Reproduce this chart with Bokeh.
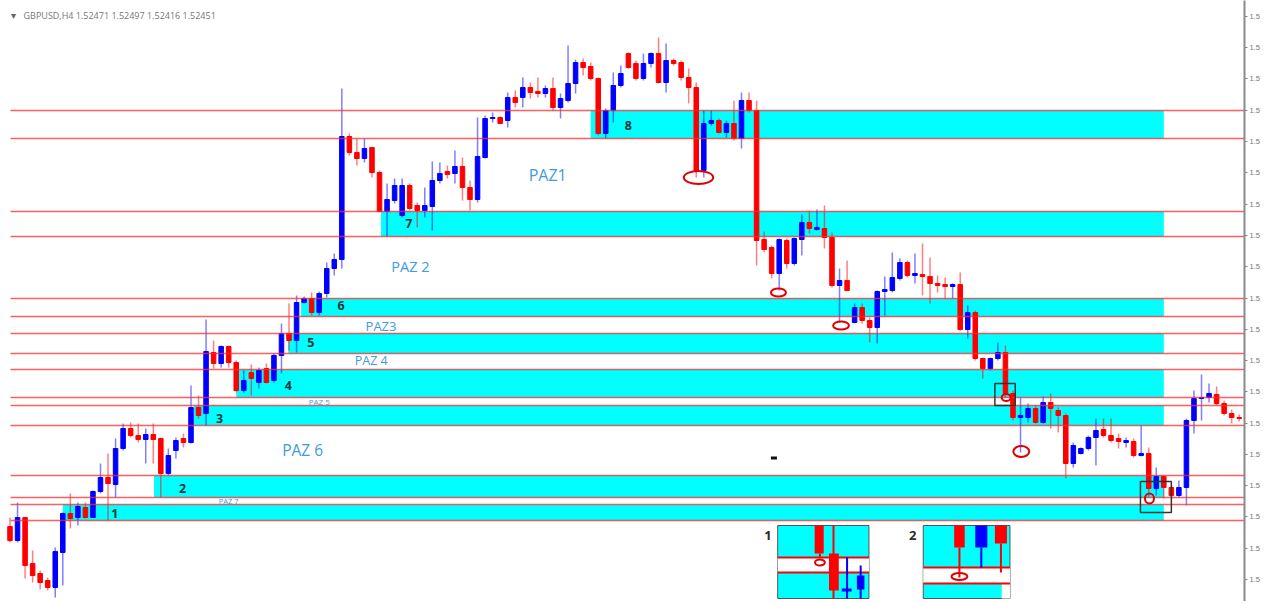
from bokeh.plotting import figure
from bokeh.models import Label, FixedTicker, CustomJSTickFormatter, Range1d
from bokeh.core.properties import value
from bokeh.embed import file_html
from bokeh.resources import INLINE

# ---------------- data ----------------
bars = list(range(-1, 163))

open_ = [1.5074,
 1.5060, 1.5083, 1.5037, 1.5027, 1.5020, 1.5013, 1.5048, 1.5087, 1.5083, 1.5093,
 1.5083, 1.5109, 1.5123, 1.5116, 1.5152, 1.5172, 1.5165, 1.5161, 1.5166, 1.5162,
 1.5127, 1.5150, 1.5162, 1.5158, 1.5193, 1.5187, 1.5248, 1.5237, 1.5254, 1.5238,
 1.5210, 1.5228, 1.5218, 1.5232, 1.5220, 1.5245, 1.5267, 1.5260, 1.5298, 1.5302,
 1.5288, 1.5307, 1.5332, 1.5341, 1.5464, 1.5448, 1.5442, 1.5453, 1.5428, 1.5389,
 1.5400, 1.5385, 1.5415, 1.5395, 1.5390, 1.5394, 1.5420, 1.5429, 1.5427, 1.5434,
 1.5413, 1.5401, 1.5443, 1.5482, 1.5483, 1.5480, 1.5503, 1.5503, 1.5513, 1.5509,
 1.5507, 1.5512, 1.5493, 1.5500, 1.5517, 1.5538, 1.5534, 1.5522, 1.5467, 1.5490,
 1.5515, 1.5547, 1.5537, 1.5522, 1.5537, 1.5547, 1.5518, 1.5540, 1.5538, 1.5523,
 1.5513, 1.5430, 1.5477, 1.5480, 1.5468, 1.5477, 1.5462, 1.5500, 1.5490, 1.5361,
 1.5353, 1.5327, 1.5360, 1.5337, 1.5361, 1.5378, 1.5371, 1.5372, 1.5363, 1.5315,
 1.5320, 1.5278, 1.5293, 1.5280, 1.5273, 1.5309, 1.5310, 1.5322, 1.5338, 1.5325,
 1.5326, 1.5324, 1.5317, 1.5316, 1.5314, 1.5316, 1.5271, 1.5288, 1.5242, 1.5232,
 1.5242, 1.5248, 1.5207, 1.5183, 1.5183, 1.5192, 1.5178, 1.5198, 1.5190, 1.5185,
 1.5137, 1.5147, 1.5152, 1.5163, 1.5171, 1.5165, 1.5162, 1.5158, 1.5159, 1.5145,
 1.5147, 1.5112, 1.5124, 1.5113, 1.5105, 1.5113, 1.5180, 1.5202, 1.5203, 1.5206,
 1.5197, 1.5187, 1.5183]

high = [1.5083,
 1.5098, 1.5083, 1.5050, 1.5030, 1.5023, 1.5053, 1.5088, 1.5107, 1.5098, 1.5098,
 1.5110, 1.5137, 1.5147, 1.5162, 1.5177, 1.5178, 1.5177, 1.5172, 1.5177, 1.5163,
 1.5152, 1.5163, 1.5167, 1.5215, 1.5205, 1.5281, 1.5260, 1.5255, 1.5255, 1.5240,
 1.5230, 1.5236, 1.5233, 1.5237, 1.5247, 1.5277, 1.5297, 1.5305, 1.5304, 1.5308,
 1.5309, 1.5338, 1.5347, 1.5512, 1.5467, 1.5462, 1.5462, 1.5453, 1.5430, 1.5417,
 1.5422, 1.5422, 1.5417, 1.5398, 1.5413, 1.5439, 1.5438, 1.5435, 1.5450, 1.5443,
 1.5420, 1.5483, 1.5485, 1.5488, 1.5484, 1.5508, 1.5510, 1.5523, 1.5518, 1.5523,
 1.5515, 1.5523, 1.5507, 1.5555, 1.5541, 1.5542, 1.5538, 1.5523, 1.5492, 1.5528,
 1.5535, 1.5548, 1.5540, 1.5547, 1.5548, 1.5563, 1.5557, 1.5542, 1.5540, 1.5532,
 1.5518, 1.5490, 1.5490, 1.5482, 1.5480, 1.5500, 1.5508, 1.5508, 1.5500, 1.5369,
 1.5355, 1.5362, 1.5362, 1.5363, 1.5386, 1.5390, 1.5391, 1.5395, 1.5368, 1.5332,
 1.5340, 1.5297, 1.5297, 1.5283, 1.5310, 1.5324, 1.5348, 1.5342, 1.5340, 1.5347,
 1.5357, 1.5343, 1.5325, 1.5323, 1.5317, 1.5328, 1.5295, 1.5290, 1.5243, 1.5243,
 1.5258, 1.5255, 1.5210, 1.5203, 1.5197, 1.5195, 1.5204, 1.5207, 1.5193, 1.5187,
 1.5158, 1.5153, 1.5165, 1.5182, 1.5182, 1.5182, 1.5167, 1.5163, 1.5162, 1.5175,
 1.5153, 1.5133, 1.5125, 1.5115, 1.5120, 1.5182, 1.5210, 1.5226, 1.5217, 1.5214,
 1.5200, 1.5191, 1.5186]

low = [1.5058,
 1.5058, 1.5022, 1.5018, 1.5011, 1.5010, 1.5003, 1.5015, 1.5072, 1.5075, 1.5082,
 1.5083, 1.5107, 1.5080, 1.5103, 1.5150, 1.5163, 1.5158, 1.5137, 1.5137, 1.5103,
 1.5125, 1.5142, 1.5153, 1.5157, 1.5182, 1.5175, 1.5232, 1.5233, 1.5233, 1.5208,
 1.5208, 1.5205, 1.5212, 1.5217, 1.5218, 1.5227, 1.5250, 1.5248, 1.5297, 1.5285,
 1.5285, 1.5303, 1.5325, 1.5332, 1.5445, 1.5435, 1.5438, 1.5423, 1.5388, 1.5364,
 1.5397, 1.5383, 1.5390, 1.5373, 1.5383, 1.5370, 1.5417, 1.5422, 1.5417, 1.5400,
 1.5390, 1.5398, 1.5442, 1.5478, 1.5477, 1.5473, 1.5493, 1.5493, 1.5502, 1.5503,
 1.5503, 1.5490, 1.5482, 1.5498, 1.5507, 1.5525, 1.5520, 1.5465, 1.5462, 1.5478,
 1.5513, 1.5532, 1.5520, 1.5520, 1.5533, 1.5517, 1.5508, 1.5535, 1.5520, 1.5497,
 1.5423, 1.5423, 1.5475, 1.5467, 1.5463, 1.5460, 1.5452, 1.5488, 1.5335, 1.5348,
 1.5322, 1.5310, 1.5332, 1.5335, 1.5345, 1.5367, 1.5370, 1.5352, 1.5313, 1.5278,
 1.5310, 1.5277, 1.5277, 1.5258, 1.5257, 1.5285, 1.5308, 1.5320, 1.5323, 1.5317,
 1.5305, 1.5297, 1.5308, 1.5302, 1.5302, 1.5270, 1.5262, 1.5240, 1.5222, 1.5230,
 1.5240, 1.5203, 1.5180, 1.5148, 1.5178, 1.5177, 1.5177, 1.5172, 1.5168, 1.5122,
 1.5133, 1.5146, 1.5150, 1.5135, 1.5163, 1.5158, 1.5152, 1.5153, 1.5143, 1.5144,
 1.5103, 1.5105, 1.5102, 1.5104, 1.5103, 1.5095, 1.5167, 1.5180, 1.5198, 1.5195,
 1.5185, 1.5177, 1.5179]

close = [1.5060,
 1.5083, 1.5035, 1.5025, 1.5018, 1.5013, 1.5049, 1.5087, 1.5082, 1.5094, 1.5083,
 1.5109, 1.5123, 1.5117, 1.5152, 1.5172, 1.5165, 1.5161, 1.5166, 1.5161, 1.5127,
 1.5145, 1.5160, 1.5158, 1.5193, 1.5185, 1.5249, 1.5237, 1.5254, 1.5238, 1.5210,
 1.5220, 1.5222, 1.5230, 1.5218, 1.5245, 1.5267, 1.5260, 1.5298, 1.5302, 1.5288,
 1.5307, 1.5332, 1.5341, 1.5464, 1.5448, 1.5442, 1.5452, 1.5428, 1.5389, 1.5401,
 1.5415, 1.5415, 1.5392, 1.5390, 1.5395, 1.5420, 1.5427, 1.5426, 1.5434, 1.5413,
 1.5401, 1.5444, 1.5482, 1.5483, 1.5477, 1.5503, 1.5498, 1.5513, 1.5508, 1.5507,
 1.5512, 1.5493, 1.5502, 1.5517, 1.5538, 1.5533, 1.5522, 1.5467, 1.5490, 1.5515,
 1.5527, 1.5533, 1.5522, 1.5537, 1.5547, 1.5518, 1.5540, 1.5537, 1.5523, 1.5513,
 1.5430, 1.5477, 1.5480, 1.5468, 1.5477, 1.5462, 1.5500, 1.5490, 1.5360, 1.5351,
 1.5327, 1.5361, 1.5337, 1.5362, 1.5378, 1.5372, 1.5373, 1.5363, 1.5315, 1.5320,
 1.5310, 1.5293, 1.5280, 1.5273, 1.5309, 1.5311, 1.5323, 1.5338, 1.5325, 1.5327,
 1.5324, 1.5317, 1.5315, 1.5314, 1.5316, 1.5271, 1.5288, 1.5242, 1.5232, 1.5242,
 1.5248, 1.5207, 1.5183, 1.5185, 1.5192, 1.5178, 1.5198, 1.5192, 1.5185, 1.5137,
 1.5155, 1.5152, 1.5163, 1.5170, 1.5165, 1.5160, 1.5159, 1.5160, 1.5145, 1.5147,
 1.5112, 1.5124, 1.5113, 1.5105, 1.5113, 1.5180, 1.5202, 1.5203, 1.5207, 1.5197,
 1.5187, 1.5183, 1.5182]

# horizontal support / resistance levels
levels = [1.5490, 1.5462, 1.5389, 1.5364, 1.5302, 1.5284, 1.5267, 1.5247,
          1.5231, 1.5203, 1.5195, 1.5175, 1.5125, 1.5103, 1.5096, 1.5080]
level_from = -0.93

# cyan zones 1..8
zone_names = ["1", "2", "3", "4", "5", "6", "7", "8"]
zone_start = [6.0, 18.1, 23.4, 29.0, 35.9, 37.6, 48.2, 76.0]
zone_end = [152.0] * 8
zone_bottom = [1.5080, 1.5103, 1.5175, 1.5203, 1.5247, 1.5284, 1.5364, 1.5462]
zone_top = [1.5096, 1.5125, 1.5195, 1.5231, 1.5267, 1.5302, 1.5389, 1.5490]
zone_label_x = [12.9, 21.9, 26.8, 35.9, 38.9, 42.9, 51.9, 81.0]
zone_label_y = [1.5087, 1.5112, 1.5182, 1.5215, 1.5258, 1.5295, 1.5377, 1.5475]

# PAZ labels
paz_text = ["PAZ1", "PAZ 2", "PAZ3", "PAZ 4", "PAZ 5", "PAZ 6", "PAZ 7"]
paz_x = [70.3, 52.1, 48.2, 46.9, 40.0, 37.8, 28.0]
paz_y = [1.5426, 1.5334, 1.5275, 1.5240, 1.5199, 1.5151, 1.5100]
paz_size = ["16px", "14.5px", "13px", "12.5px", "8px", "15.5px", "7.5px"]

# red ellipses
ell_x = [90.3, 100.9, 109.2, 133.1, 131.1, 150.1]
ell_y = [1.5423, 1.5308, 1.5275, 1.5149, 1.5203, 1.5102]
ell_w = [3.9, 2.0, 2.1, 2.1, 1.2, 1.2]
ell_h = [0.0013, 0.0008, 0.0008, 0.0011, 0.0007, 0.0010]

# black boxes
box_left = [129.6, 148.9]
box_right = [132.3, 153.0]
box_bottom = [1.5195, 1.5088]
box_top = [1.5217, 1.5119]

# zoom insets
inset_label = ["1", "2"]
inset_label_x = [99.5, 118.7]
inset_label_y = [1.5065, 1.5065]
inset_left = [100.8, 120.1]
inset_right = [112.9, 131.6]
inset_top = [1.5075, 1.5075]
inset_bottom = [1.5002, 1.5002]
band_bottom = [1.5028, 1.5017]
band_top = [1.5043, 1.5033]
ib_left = [105.7, 107.6, 109.3, 111.3, 124.2, 127.0, 129.6]
ib_right = [106.9, 108.9, 110.6, 112.3, 125.6, 128.6, 131.2]
ib_bottom = [1.5047, 1.5010, 1.5009, 1.5011, 1.5053, 1.5053, 1.5057]
ib_top = [1.5075, 1.5047, 1.5012, 1.5025, 1.5075, 1.5075, 1.5075]
ib_color = ["#ff0000", "#ff0000", "#0000ff", "#0000ff", "#ff0000", "#0000ff", "#ff0000"]
iw_x = [106.4, 108.2, 110.0, 111.8, 124.9, 127.8, 130.4]
iw_top = [1.5047, 1.5075, 1.5043, 1.5035, 1.5053, 1.5053, 1.5057]
iw_bottom = [1.5043, 1.5002, 1.5002, 1.5002, 1.5023, 1.5033, 1.5028]
iell_x = [106.4, 124.9]
iell_y = [1.5038, 1.5024]
iell_w = [1.3, 2.1]
iell_h = [0.0006, 0.0007]

axis_ticks = [1.5584, 1.5553, 1.5522, 1.5490, 1.5459, 1.5428, 1.5396, 1.5365,
              1.5334, 1.5302, 1.5271, 1.5240, 1.5209, 1.5177, 1.5146, 1.5115,
              1.5084, 1.5052, 1.5021]

symbol_text = "GBPUSD,H4  1.52471 1.52497 1.52416 1.52451"

# ---------------- figure ----------------
X_END = 162.7
p = figure(width=1262, height=601, output_backend="svg", toolbar_location=None,
           x_range=Range1d(-2.26, X_END), y_range=Range1d(1.4999, 1.5600),
           y_axis_location="right", min_border=0)
p.xaxis.visible = False
p.grid.visible = False
p.outline_line_color = None
p.background_fill_color = "white"

yax = p.yaxis[0]
yax.ticker = FixedTicker(ticks=axis_ticks)
yax.formatter = CustomJSTickFormatter(code="return '1.5'")
yax.axis_line_color = "#8a8a8a"
yax.axis_line_width = 2
yax.major_tick_in = 0
yax.major_tick_out = 3
yax.major_tick_line_color = "#8a8a8a"
yax.minor_tick_line_color = None
yax.major_label_text_font_size = "7.5px"
yax.major_label_text_color = "#777777"
yax.major_label_standoff = 2

# zones
p.quad(left=zone_start, right=zone_end, bottom=zone_bottom, top=zone_top,
       fill_color="#00ffff", line_color=None)

# candles
colors = ["#0000ff" if c >= o else "#ff0000" for o, c in zip(open_, close)]
body_top = [max(o, c) for o, c in zip(open_, close)]
body_bot = [min(o, c) for o, c in zip(open_, close)]
p.segment(x0=bars, x1=bars, y0=low, y1=high, line_color=colors, line_width=1.5, line_alpha=0.5)
p.vbar(x=bars, width=0.6, top=body_top, bottom=body_bot, fill_color=colors,
       line_color=colors, line_width=1)

# levels
p.segment(x0=[level_from] * len(levels), x1=[X_END] * len(levels), y0=levels, y1=levels,
          line_color="#ff2a2a", line_width=1.6, line_alpha=0.75)

# zone numbers
p.text(x=zone_label_x, y=zone_label_y, text=zone_names, text_font=value("Open Sans"),
       text_font_size="12.5px", text_font_style="bold", text_color="#1f3535",
       text_align="center", text_baseline="middle")

# PAZ labels
p.text(x=paz_x, y=paz_y, text=paz_text, text_font=value("Open Sans"),
       text_font_size=paz_size, text_color="#3d9be0", text_align="center",
       text_baseline="middle")

# ellipses and boxes
p.ellipse(x=ell_x, y=ell_y, width=ell_w, height=ell_h, fill_color=None,
          line_color="#e00000", line_width=2)
p.quad(left=box_left, right=box_right, bottom=box_bottom, top=box_top,
       fill_color=None, line_color="#333333", line_width=1.5)
p.quad(left=[99.9], right=[100.7], bottom=[1.5141], top=[1.5144],
       fill_color="#111111", line_color=None)

# insets
p.quad(left=inset_left, right=inset_right, bottom=inset_bottom, top=inset_top,
       fill_color="#00ffff", line_color="#555555", line_width=1)
p.quad(left=inset_left, right=inset_right, bottom=band_bottom, top=band_top,
       fill_color="white", line_color=None)
p.quad(left=[130.5], right=[131.6], bottom=[1.5002], top=[1.5017],
       fill_color="white", line_color=None)
p.segment(x0=inset_left + inset_left, x1=inset_right + inset_right,
          y0=band_bottom + band_top, y1=band_bottom + band_top,
          line_color="#ff0000", line_width=2)
p.segment(x0=iw_x, x1=iw_x, y0=iw_bottom, y1=iw_top, line_color=ib_color, line_width=2)
p.quad(left=ib_left, right=ib_right, bottom=ib_bottom, top=ib_top,
       fill_color=ib_color, line_color=None)
p.ellipse(x=iell_x, y=iell_y, width=iell_w, height=iell_h, fill_color=None,
          line_color="#e00000", line_width=2)
p.text(x=inset_label_x, y=inset_label_y, text=inset_label, text_font=value("Open Sans"),
       text_font_size="13px", text_font_style="bold", text_color="#2a2a2a",
       text_align="center", text_baseline="middle")

# header
p.add_layout(Label(x=-0.55, y=1.5585, text="\u25be", text_font="DejaVu Sans",
                   text_font_size="10px", text_color="#666666", text_baseline="middle",
                   text_align="center"))
p.add_layout(Label(x=0.8, y=1.5585, text=symbol_text, text_font="Open Sans",
                   text_font_size="9px", text_color="#777777", text_baseline="middle"))

open("out.html", "w").write(file_html(p, INLINE))
